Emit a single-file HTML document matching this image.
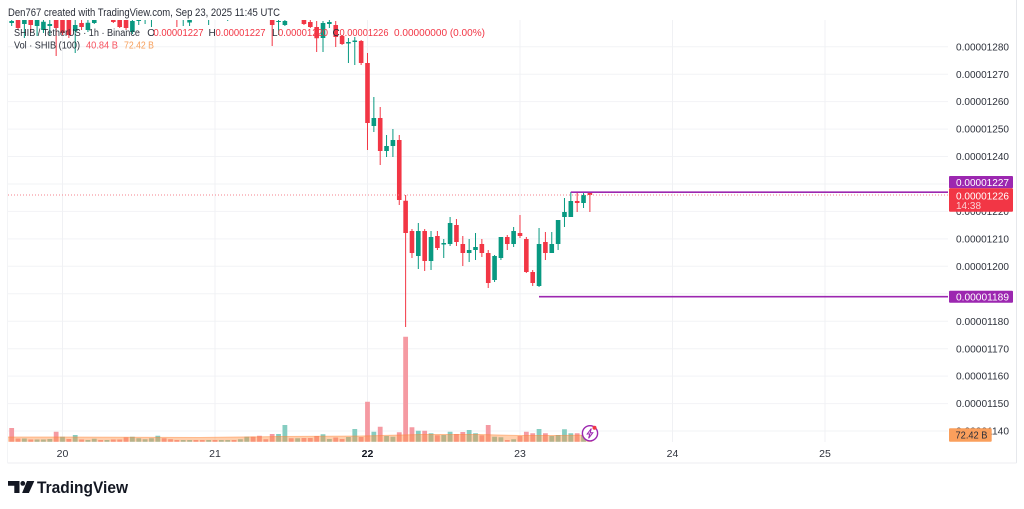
<!DOCTYPE html>
<html><head><meta charset="utf-8"><style>
html,body{margin:0;padding:0;background:#fff;}
body{width:1024px;height:509px;overflow:hidden;}
svg{display:block;}
</style></head><body>
<svg width="1024" height="509" viewBox="0 0 1024 509" font-family="'Liberation Sans', sans-serif">
<defs>
<clipPath id="c"><rect x="8" y="20" width="940" height="422"/></clipPath>
</defs>
<rect width="1024" height="509" fill="#fff"/>
<!-- horizontal grid -->
<g stroke="#f2f3f6" stroke-width="1">
<line x1="8" x2="948" y1="46.7" y2="46.7"/><line x1="8" x2="948" y1="74.2" y2="74.2"/>
<line x1="8" x2="948" y1="101.6" y2="101.6"/><line x1="8" x2="948" y1="129.1" y2="129.1"/>
<line x1="8" x2="948" y1="156.5" y2="156.5"/><line x1="8" x2="948" y1="184" y2="184"/>
<line x1="8" x2="948" y1="211.4" y2="211.4"/><line x1="8" x2="948" y1="238.9" y2="238.9"/>
<line x1="8" x2="948" y1="266.3" y2="266.3"/><line x1="8" x2="948" y1="293.8" y2="293.8"/>
<line x1="8" x2="948" y1="321.2" y2="321.2"/><line x1="8" x2="948" y1="348.7" y2="348.7"/>
<line x1="8" x2="948" y1="376.1" y2="376.1"/><line x1="8" x2="948" y1="403.6" y2="403.6"/>
<line x1="8" x2="948" y1="431" y2="431"/>
</g>
<!-- vertical grid -->
<g stroke="#f0f1f4" stroke-width="1">
<line x1="62.5" x2="62.5" y1="20" y2="442"/><line x1="215" x2="215" y1="20" y2="442"/>
<line x1="367.5" x2="367.5" y1="20" y2="442"/><line x1="520" x2="520" y1="20" y2="442"/>
<line x1="672.5" x2="672.5" y1="20" y2="442"/><line x1="825" x2="825" y1="20" y2="442"/>
</g>
<!-- borders -->
<line x1="1016.5" x2="1016.5" y1="0" y2="463" stroke="#e6e8ec"/>
<line x1="7.5" x2="1016.5" y1="463" y2="463" stroke="#eceef1"/>
<line x1="7.5" x2="7.5" y1="20" y2="463" stroke="#f3f4f6"/>

<g clip-path="url(#c)">
<!-- volume red -->
<path fill="#f59aa2" d="M9.27 441.7V428h4.8V441.7zM15.62 441.7V438.5h4.8V441.7zM28.33 441.7V439.5h4.8V441.7zM53.75 441.7V431.7h4.8V441.7zM66.45 441.7V439h4.8V441.7zM79.16 441.7V439.5h4.8V441.7zM98.22 441.7V440h4.8V441.7zM110.93 441.7V439.5h4.8V441.7zM117.29 441.7V439.5h4.8V441.7zM123.64 441.7V437.3h4.8V441.7zM161.76 441.7V438.3h4.8V441.7zM168.12 441.7V439.3h4.8V441.7zM174.47 441.7V440h4.8V441.7zM193.53 441.7V440h4.8V441.7zM199.89 441.7V440h4.8V441.7zM212.6 441.7V440h4.8V441.7zM231.66 441.7V440h4.8V441.7zM250.72 441.7V436.7h4.8V441.7zM257.07 441.7V435.7h4.8V441.7zM263.43 441.7V439.3h4.8V441.7zM269.78 441.7V434h4.8V441.7zM288.84 441.7V438.3h4.8V441.7zM301.55 441.7V438h4.8V441.7zM307.91 441.7V438h4.8V441.7zM314.26 441.7V436h4.8V441.7zM333.32 441.7V437.5h4.8V441.7zM339.68 441.7V439h4.8V441.7zM358.74 441.7V437h4.8V441.7zM365.09 441.7V401.7h4.8V441.7zM377.8 441.7V426.7h4.8V441.7zM396.86 441.7V432.3h4.8V441.7zM403.22 441.7V336.7h4.8V441.7zM409.57 441.7V427.3h4.8V441.7zM422.28 441.7V430.7h4.8V441.7zM434.99 441.7V435.3h4.8V441.7zM454.05 441.7V434h4.8V441.7zM460.4 441.7V432h4.8V441.7zM479.46 441.7V435.3h4.8V441.7zM485.82 441.7V425h4.8V441.7zM504.88 441.7V440h4.8V441.7zM517.59 441.7V436h4.8V441.7zM523.94 441.7V431.7h4.8V441.7zM530.3 441.7V433.3h4.8V441.7zM543 441.7V433.3h4.8V441.7zM574.77 441.7V433.3h4.8V441.7zM587.48 441.7V437h4.8V441.7z"/>
<!-- volume green -->
<path fill="#86cdc1" d="M21.98 441.7V438.5h4.8V441.7zM34.68 441.7V439.5h4.8V441.7zM41.04 441.7V439.5h4.8V441.7zM47.39 441.7V439h4.8V441.7zM60.1 441.7V436.7h4.8V441.7zM72.81 441.7V435h4.8V441.7zM85.52 441.7V440h4.8V441.7zM91.87 441.7V438.7h4.8V441.7zM104.58 441.7V440h4.8V441.7zM129.99 441.7V436.7h4.8V441.7zM136.35 441.7V438.3h4.8V441.7zM142.7 441.7V439.3h4.8V441.7zM149.06 441.7V438.3h4.8V441.7zM155.41 441.7V435.7h4.8V441.7zM180.83 441.7V440h4.8V441.7zM187.18 441.7V440h4.8V441.7zM206.24 441.7V440h4.8V441.7zM218.95 441.7V440h4.8V441.7zM225.3 441.7V440h4.8V441.7zM238.01 441.7V439.3h4.8V441.7zM244.37 441.7V436.7h4.8V441.7zM276.14 441.7V434h4.8V441.7zM282.49 441.7V425h4.8V441.7zM295.2 441.7V438.3h4.8V441.7zM320.61 441.7V434.3h4.8V441.7zM326.97 441.7V439h4.8V441.7zM346.03 441.7V437h4.8V441.7zM352.38 441.7V429h4.8V441.7zM371.45 441.7V431.7h4.8V441.7zM384.15 441.7V436h4.8V441.7zM390.51 441.7V436.7h4.8V441.7zM415.92 441.7V430.7h4.8V441.7zM428.63 441.7V433.3h4.8V441.7zM441.34 441.7V435h4.8V441.7zM447.69 441.7V431.7h4.8V441.7zM466.76 441.7V430h4.8V441.7zM473.11 441.7V433.3h4.8V441.7zM492.17 441.7V436.7h4.8V441.7zM498.53 441.7V437.3h4.8V441.7zM511.23 441.7V439.3h4.8V441.7zM536.65 441.7V429h4.8V441.7zM549.36 441.7V436h4.8V441.7zM555.71 441.7V435h4.8V441.7zM562.07 441.7V429.3h4.8V441.7zM568.42 441.7V433.3h4.8V441.7zM581.13 441.7V435h4.8V441.7z"/>
<!-- volume MA band -->
<path fill="rgba(255,140,60,0.42)" d="M8 441.7L8 437L62 437L200 437.5L280 436.5L360 436L420 434.5L480 434.5L520 435.5L560 435.5L592 435L592 441.7Z"/>
<path fill="none" stroke="rgba(255,130,50,0.45)" stroke-width="1" d="M8 437L62 437L200 437.5L280 436.5L360 436L420 434.5L480 434.5L520 435.5L560 435.5L592 435"/>

<!-- candles red -->
<path fill="#f23645" d="M17.52 8h1V30h-1zM15.72 10h4.6V28h-4.6z
M30.23 12h1V32h-1zM28.43 15h4.6V25h-4.6z
M55.65 12h1V56h-1zM53.85 15h4.6V28h-4.6z
M62 12h1V35h-1zM60.2 15h4.6V33h-4.6z
M68.35 12h1V38h-1zM66.55 15h4.6V35h-4.6z
M81.06 20h1V30h-1zM79.26 23h4.6V27h-4.6z
M112.83 12h1V23h-1zM111.03 15h4.6V22h-4.6z
M119.19 12h1V28h-1zM117.39 15h4.6V27h-4.6z
M125.54 15h1V30h-1zM123.74 18h4.6V28h-4.6z
M176.37 8h1V27h-1zM174.57 10h4.6V18h-4.6z
M271.68 15h1V46h-1zM269.88 19h4.6V25h-4.6z
M303.45 17h1V25h-1zM301.65 20h4.6V24h-4.6z
M309.81 19h1V28h-1zM308.01 22h4.6V27h-4.6z
M316.16 21h1V52h-1zM314.36 27h4.6V38.3h-4.6z
M335.22 21h1V47h-1zM333.42 25h4.6V37h-4.6z
M341.58 35h1V45h-1zM339.78 36h4.6V44h-4.6z
M360.64 40h1V65h-1zM358.84 41h4.6V63h-4.6z
M366.99 53h1V150h-1zM365.19 63h4.6V123h-4.6z
M379.7 107h1V165h-1zM377.9 118h4.6V151h-4.6z
M398.76 135h1V205h-1zM396.96 140h4.6V200h-4.6z
M405.12 195h1V327h-1zM403.32 200.7h4.6V233h-4.6z
M411.47 229h1V258h-1zM409.67 231h4.6V253h-4.6z
M424.18 229h1V271h-1zM422.38 231h4.6V261h-4.6z
M436.89 231h1V250h-1zM435.09 236h4.6V248h-4.6z
M455.95 219h1V246h-1zM454.15 225h4.6V242h-4.6z
M462.3 236h1V266h-1zM460.5 244h4.6V253h-4.6z
M481.36 239h1V257h-1zM479.56 244h4.6V253h-4.6z
M487.72 250h1V288h-1zM485.92 253h4.6V283h-4.6z
M506.78 235h1V250h-1zM504.98 237h4.6V244h-4.6z
M519.49 215h1V238h-1zM517.69 233h4.6V236h-4.6z
M525.84 237h1V273h-1zM524.04 239h4.6V272h-4.6z
M532.2 270h1V286h-1zM530.4 272h4.6V283h-4.6z
M544.9 232h1V260h-1zM543.1 242h4.6V253h-4.6z
M576.67 193h1V212h-1zM574.87 201h4.6V203h-4.6z
M589.38 192h1V212h-1zM587.58 192.5h4.6V195h-4.6z"/>
<!-- candles green -->
<path fill="#089981" d="M11.17 18h1V26h-1zM9.37 21h4.6V23h-4.6z
M23.88 15h1V38h-1zM22.08 18h4.6V24h-4.6z
M36.58 16h1V36h-1zM34.78 20h4.6V26h-4.6z
M42.94 18h1V33h-1zM41.14 21.7h4.6V30h-4.6z
M49.29 20h1V36h-1zM47.49 24h4.6V26h-4.6z
M74.71 20h1V53h-1zM72.91 25h4.6V31h-4.6z
M87.42 20h1V32h-1zM85.62 22.7h4.6V30h-4.6z
M93.77 18h1V24h-1zM91.97 20h4.6V23h-4.6z
M131.89 18h1V34h-1zM130.09 21h4.6V32h-4.6z
M138.25 15h1V25h-1zM136.45 18h4.6V21h-4.6z
M144.6 12h1V24h-1zM142.8 15h4.6V19h-4.6z
M150.96 13h1V27h-1zM149.16 16h4.6V19h-4.6z
M182.73 8h1V26h-1zM180.93 10h4.6V18h-4.6z
M189.08 17h1V26h-1zM187.28 20h4.6V22.5h-4.6z
M208.14 8h1V25h-1zM206.34 10h4.6V18h-4.6z
M227.2 8h1V21h-1zM225.4 10h4.6V16h-4.6z
M278.04 19h1V35h-1zM276.24 21h4.6V22h-4.6z
M284.39 15h1V26h-1zM282.59 21h4.6V25h-4.6z
M322.51 21h1V52h-1zM320.71 23h4.6V38h-4.6z
M328.87 20h1V28h-1zM327.07 22h4.6V24h-4.6z
M347.93 38h1V63h-1zM346.13 42h4.6V43.5h-4.6z
M354.28 37h1V65h-1zM352.48 40.5h4.6V42h-4.6z
M373.35 97h1V132h-1zM371.55 118h4.6V126h-4.6z
M386.05 135h1V157h-1zM384.25 146h4.6V151h-4.6z
M392.41 129h1V157h-1zM390.61 140h4.6V146h-4.6z
M417.82 223h1V269h-1zM416.02 231h4.6V256h-4.6z
M430.53 231h1V270h-1zM428.73 237h4.6V261h-4.6z
M443.24 239h1V258h-1zM441.44 243h4.6V244.5h-4.6z
M449.59 217h1V246h-1zM447.79 223h4.6V244h-4.6z
M468.66 239h1V262h-1zM466.86 250h4.6V253h-4.6z
M475.01 233h1V260h-1zM473.21 247h4.6V250h-4.6z
M494.07 255h1V282h-1zM492.27 256h4.6V280h-4.6z
M500.43 237h1V260h-1zM498.63 237h4.6V258h-4.6z
M513.13 227h1V247h-1zM511.33 231h4.6V244h-4.6z
M538.55 228h1V287h-1zM536.75 244h4.6V286h-4.6z
M551.26 232h1V253h-1zM549.46 244h4.6V253h-4.6z
M557.61 220h1V250h-1zM555.81 220h4.6V244h-4.6z
M563.97 198h1V227h-1zM562.17 212h4.6V217h-4.6z
M570.32 192h1V217h-1zM568.52 201h4.6V217h-4.6z
M583.03 193h1V208h-1zM581.23 195h4.6V203h-4.6z"/>
</g>

<!-- price line dotted -->
<line x1="8" x2="948" y1="195" y2="195" stroke="#f4838d" stroke-width="1" stroke-dasharray="1 2"/>
<!-- purple rays -->
<line x1="570.8" x2="948" y1="192.2" y2="192.2" stroke="#9c27b0" stroke-width="1.6"/>
<line x1="539" x2="948" y1="296.7" y2="296.7" stroke="#9c27b0" stroke-width="1.6"/>

<!-- lightning icon -->
<circle cx="590" cy="433.3" r="7.6" fill="#fff" stroke="#9c27b0" stroke-width="1.4"/>
<path d="M591.3 428.5L587.2 434h2.6l-1.2 4.3 4.2-5.6h-2.6z" fill="none" stroke="#9c27b0" stroke-width="1"/>
<circle cx="594.5" cy="427.8" r="2" fill="#f23645"/>

<!-- header -->
<text x="8" y="16" font-size="10.6" fill="#2a2e39" textLength="272" lengthAdjust="spacingAndGlyphs">Den767 created with TradingView.com, Sep 23, 2025 11:45 UTC</text>
<g font-size="10">
<text x="14" y="36" fill="#2a2e39" textLength="126" lengthAdjust="spacingAndGlyphs">SHIB / TetherUS · 1h · Binance</text>
<text x="147.3" y="36" fill="#2a2e39">O</text>
<text x="153.5" y="36" fill="#f23645" textLength="50" lengthAdjust="spacingAndGlyphs">0.00001227</text>
<text x="208.5" y="36" fill="#2a2e39">H</text>
<text x="215.5" y="36" fill="#f23645" textLength="50" lengthAdjust="spacingAndGlyphs">0.00001227</text>
<text x="272" y="36" fill="#2a2e39">L</text>
<text x="278" y="36" fill="#f23645" textLength="50" lengthAdjust="spacingAndGlyphs">0.00001220</text>
<text x="332.5" y="36" fill="#2a2e39">C</text>
<text x="339.5" y="36" fill="#f23645" textLength="49" lengthAdjust="spacingAndGlyphs">0.00001226</text>
<text x="394" y="36" fill="#f23645" textLength="91" lengthAdjust="spacingAndGlyphs">0.00000000 (0.00%)</text>
<text x="14" y="48.7" fill="#2a2e39" textLength="66" lengthAdjust="spacingAndGlyphs">Vol · SHIB (100)</text>
<text x="86" y="48.7" fill="#f7525f" textLength="32" lengthAdjust="spacingAndGlyphs">40.84 B</text>
<text x="124" y="48.7" fill="#f7a05c" textLength="30" lengthAdjust="spacingAndGlyphs">72.42 B</text>
</g>

<!-- price axis labels -->
<g font-size="10" fill="#2e323c">
<text x="956" y="50.3" textLength="53" lengthAdjust="spacingAndGlyphs">0.00001280</text>
<text x="956" y="77.8" textLength="53" lengthAdjust="spacingAndGlyphs">0.00001270</text>
<text x="956" y="105.2" textLength="53" lengthAdjust="spacingAndGlyphs">0.00001260</text>
<text x="956" y="132.7" textLength="53" lengthAdjust="spacingAndGlyphs">0.00001250</text>
<text x="956" y="160.1" textLength="53" lengthAdjust="spacingAndGlyphs">0.00001240</text>
<text x="956" y="215" textLength="53" lengthAdjust="spacingAndGlyphs">0.00001220</text>
<text x="956" y="242.5" textLength="53" lengthAdjust="spacingAndGlyphs">0.00001210</text>
<text x="956" y="269.9" textLength="53" lengthAdjust="spacingAndGlyphs">0.00001200</text>
<text x="956" y="324.8" textLength="53" lengthAdjust="spacingAndGlyphs">0.00001180</text>
<text x="956" y="352.3" textLength="53" lengthAdjust="spacingAndGlyphs">0.00001170</text>
<text x="956" y="379.7" textLength="53" lengthAdjust="spacingAndGlyphs">0.00001160</text>
<text x="956" y="407.2" textLength="53" lengthAdjust="spacingAndGlyphs">0.00001150</text>
<text x="956" y="434.6" textLength="53" lengthAdjust="spacingAndGlyphs">0.00001140</text>
</g>
<!-- price boxes -->
<rect x="949" y="176" width="64" height="12.3" rx="1" fill="#9c27b0"/>
<text x="956" y="185.8" font-size="10" fill="#fff" textLength="53" lengthAdjust="spacingAndGlyphs">0.00001227</text>
<rect x="949" y="188.3" width="64" height="23.4" rx="1" fill="#f23645"/>
<text x="956" y="199.3" font-size="10" fill="#fff" textLength="53" lengthAdjust="spacingAndGlyphs">0.00001226</text>
<text x="956" y="208.8" font-size="10" fill="#fbd0d4" textLength="25" lengthAdjust="spacingAndGlyphs">14:38</text>
<rect x="949" y="290.7" width="64" height="12" rx="1" fill="#9c27b0"/>
<text x="956" y="300.3" font-size="10" fill="#fff" textLength="53" lengthAdjust="spacingAndGlyphs">0.00001189</text>
<rect x="949" y="428.3" width="42.7" height="13.4" rx="1" fill="#fa9f5c"/>
<text x="955.5" y="438.6" font-size="10" fill="#2a2e39" textLength="32" lengthAdjust="spacingAndGlyphs">72.42 B</text>

<!-- time axis -->
<g font-size="10.5" fill="#2e323c" text-anchor="middle">
<text x="62.5" y="457">20</text>
<text x="215" y="457">21</text>
<text x="367.5" y="457" font-weight="bold" fill="#131722">22</text>
<text x="520" y="457">23</text>
<text x="672.5" y="457">24</text>
<text x="825" y="457">25</text>
</g>

<!-- TradingView logo -->
<g fill="#131722">
<path d="M8 481h11.5v12h-5.2v-7.2H8z"/>
<circle cx="22.8" cy="483.4" r="2.4"/>
<path d="M27 481h7.3l-5.4 12h-6.8z"/>
</g>
<text x="37" y="493" font-size="17" font-weight="bold" fill="#131722" textLength="91" lengthAdjust="spacingAndGlyphs">TradingView</text>
</svg>
</body></html>
